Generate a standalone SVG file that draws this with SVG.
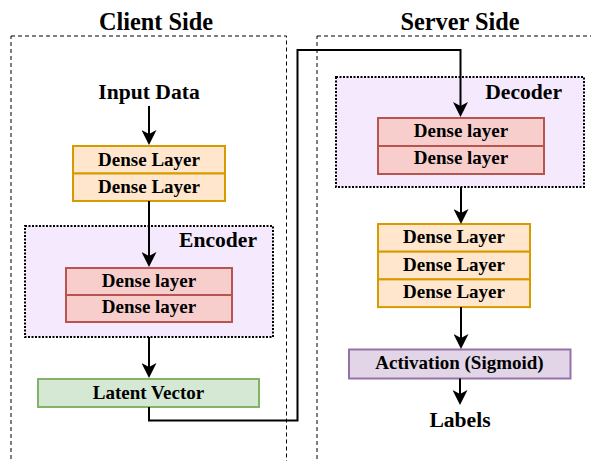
<svg xmlns="http://www.w3.org/2000/svg" width="591" height="461" viewBox="0 0 591 461">
  <style>
    text { font-family: "Liberation Serif", "Times New Roman", serif; font-weight: bold; fill: #000; }
    .title { font-size: 24.3px; text-anchor: middle; }
    .label { font-size: 21.6px; }
    .mid { text-anchor: middle; }
    .end { text-anchor: end; }
    .box { font-size: 19px; text-anchor: middle; }
    .side { fill: none; stroke: #000; stroke-width: 1; stroke-dasharray: 4 3; }
    .group { fill: #f5e9fd; stroke: #000; stroke-width: 2; stroke-dasharray: 2 1.5; }
    .orange { fill: #ffe6cc; stroke: #d79b00; stroke-width: 2; }
    .red { fill: #f8cecc; stroke: #b85450; stroke-width: 2; }
    .green { fill: #d5e8d4; stroke: #82b366; stroke-width: 2; }
    .purple { fill: #e1d5e7; stroke: #9673a6; stroke-width: 2; }
    .edge { fill: none; stroke: #000; stroke-width: 2; }
  </style>
  <defs>
    <marker id="arrow" viewBox="0 0 15 15" markerWidth="15" markerHeight="15" refX="4" refY="7.5" markerUnits="userSpaceOnUse" orient="auto">
      <path d="M0,0 L15,7.5 L0,15 L4,7.5 Z" fill="#000"/>
    </marker>
  </defs>

  <!-- Client column -->
  <g id="client-side">
    <rect class="side" x="11" y="36" width="275.5" height="440"/>
    <text class="title" x="156" y="30">Client Side</text>
  </g>
  <g id="input-data">
    <text class="label mid" x="149" y="99">Input Data</text>
  </g>
  <g id="client-dense">
    <rect class="orange" x="73" y="146" width="152" height="27.5"/>
    <rect class="orange" x="73" y="173.5" width="152" height="27.5"/>
    <text class="box" x="149" y="165.5">Dense Layer</text>
    <text class="box" x="149" y="193">Dense Layer</text>
  </g>
  <g id="encoder">
    <rect class="group" x="25" y="226" width="248" height="111"/>
    <text class="label end" x="257" y="247">Encoder</text>
    <rect class="red" x="66" y="268" width="166" height="27"/>
    <rect class="red" x="66" y="295" width="166" height="27"/>
    <text class="box" x="149" y="287">Dense layer</text>
    <text class="box" x="149" y="313">Dense layer</text>
  </g>
  <g id="latent-vector">
    <rect class="green" x="38" y="379" width="221" height="28"/>
    <text class="box" x="148.5" y="398.5">Latent Vector</text>
  </g>

  <!-- Server column -->
  <g id="server-side">
    <rect class="side" x="317" y="36" width="300" height="440"/>
    <text class="title" x="460" y="30">Server Side</text>
  </g>
  <g id="decoder">
    <rect class="group" x="336" y="77" width="248" height="110"/>
    <text class="label end" x="562" y="99">Decoder</text>
    <rect class="red" x="378" y="118" width="166" height="28"/>
    <rect class="red" x="378" y="146" width="166" height="28"/>
    <text class="box" x="461" y="137">Dense layer</text>
    <text class="box" x="461" y="164">Dense layer</text>
  </g>
  <g id="server-dense">
    <rect class="orange" x="378" y="224" width="152" height="27.7"/>
    <rect class="orange" x="378" y="251.7" width="152" height="27.7"/>
    <rect class="orange" x="378" y="279.4" width="152" height="27.7"/>
    <text class="box" x="454" y="243">Dense Layer</text>
    <text class="box" x="454" y="270.5">Dense Layer</text>
    <text class="box" x="454" y="298">Dense Layer</text>
  </g>
  <g id="activation">
    <rect class="purple" x="349" y="349.5" width="221.5" height="29"/>
    <text class="box" x="459.5" y="368.5">Activation (Sigmoid)</text>
  </g>
  <g id="labels">
    <text class="label mid" x="460" y="426.5">Labels</text>
  </g>

  <!-- Connectors -->
  <g id="connectors">
    <path class="edge" d="M149,106 V134" marker-end="url(#arrow)"/>
    <path class="edge" d="M149,201 V256" marker-end="url(#arrow)"/>
    <path class="edge" d="M149,337 V367" marker-end="url(#arrow)"/>
    <path class="edge" d="M149,407 V420.5 H297.5 V50 H460.5 V106" marker-end="url(#arrow)"/>
    <path class="edge" d="M461,187 V213" marker-end="url(#arrow)"/>
    <path class="edge" d="M461,307 V338" marker-end="url(#arrow)"/>
    <path class="edge" d="M460,378.5 V394" marker-end="url(#arrow)"/>
  </g>
</svg>
